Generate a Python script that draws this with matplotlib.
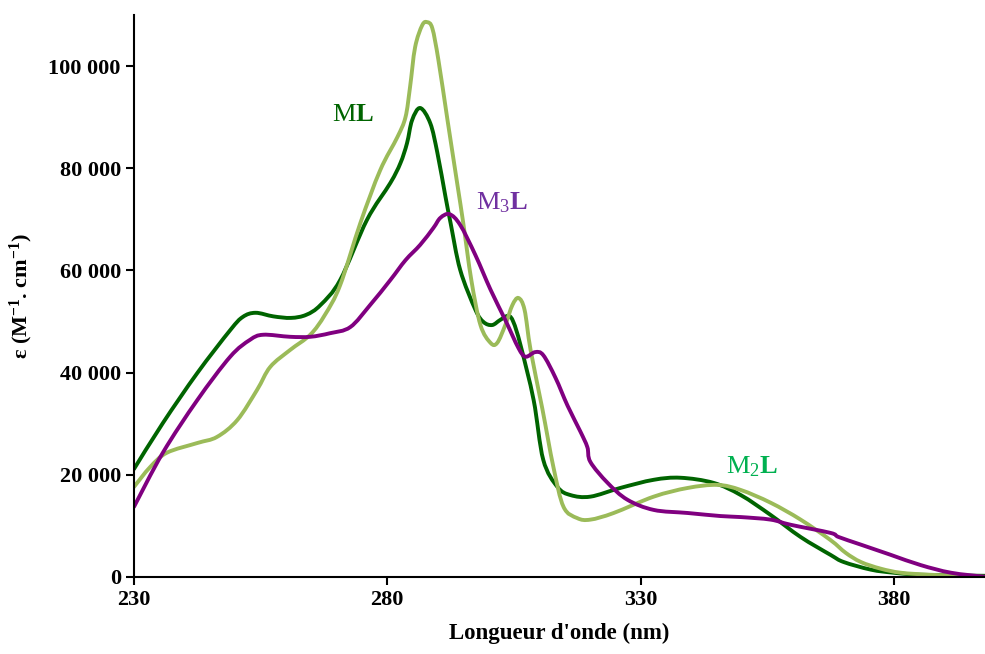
import matplotlib.pyplot as plt
from matplotlib.path import Path
from matplotlib.patches import PathPatch
from matplotlib.ticker import FuncFormatter

plt.rcParams["font.family"] = ["Liberation Serif", "DejaVu Serif"]
plt.rcParams["mathtext.fontset"] = "custom"
plt.rcParams["mathtext.rm"] = "Liberation Serif"
plt.rcParams["mathtext.it"] = "Liberation Serif:italic"
plt.rcParams["mathtext.bf"] = "Liberation Serif:bold"

# ML (dark green)
ml_x = [230, 235.7, 242.5, 249, 251.5, 254, 257.5, 261, 264, 266.8, 270.7, 276,
        280.6, 282.6, 283.9, 284.9, 286.5, 288.5, 289.9, 291.5, 292.5, 294.4, 297.4,
        299, 300.7, 302.3, 303.9, 304.9, 306.3, 308.9, 310.8, 313.6, 316.2, 320.1,
        326, 332.6, 337.9, 344.4, 349.8, 355.7, 361.6, 367.5, 370.1, 375.5, 380,
        385.3, 398]
ml_y = [21100, 30100, 39900, 48300, 50900, 51700, 51000, 50700, 51300, 53200, 58100,
        69900, 77100, 81000, 84900, 89400, 91800, 88800, 83000, 74400, 69300, 60100,
        52300, 49900, 49300, 50300, 51100, 49900, 45400, 34600, 22900, 17600, 16000,
        15700, 17400, 19000, 19400, 18400, 16000, 12100, 7800, 4300, 2900, 1400, 800,
        400, 200]

# M2L (light green)
m2l_x = [230, 233.2, 236.5, 242.5, 246.4, 250.4, 254.3, 256.9, 260.8, 264.8, 267.7,
         270.7, 274.7, 278.6, 282, 283.6, 284.5, 285.5, 286.9, 287.9, 288.9, 290.1,
         291.9, 293.8, 295, 296.6, 298.4, 300.4, 301.7, 303.3, 304.7, 305.9, 307.1,
         308.3, 310.6, 312.8, 314.8, 317.5, 320.1, 324.7, 332.6, 339.3, 345.2, 349.8,
         355.7, 361.6, 367.5, 370.5, 373.5, 377.4, 381.4, 387.3, 398]
m2l_y = [17600, 21500, 24300, 26200, 27400, 30700, 36600, 41100, 44400, 47400, 51300,
         57100, 69300, 79600, 86100, 90000, 95900, 103700, 108000, 108600, 107400,
         101200, 89400, 77100, 69300, 58100, 49300, 45800, 45800, 49300, 53200, 54600,
         52300, 44400, 33000, 21500, 13700, 11500, 11200, 12500, 15700, 17400, 18000,
         17000, 14500, 11200, 7200, 4700, 2900, 1600, 800, 400, 0]

# M3L (purple)
m3l_x = [230, 235.7, 242.5, 249, 252.9, 255.5, 260.8, 264.8, 268.7, 272.7, 276.6,
         280.6, 283.6, 286.5, 289.1, 290.5, 292.3, 294.4, 297.4, 300.4, 303.3, 305.9,
         307.3, 309.2, 310.8, 313.2, 315.6, 318.1, 319.5, 320.1, 323.5, 327.4, 332.6,
         339.3, 345.8, 349.8, 355.7, 359.6, 367.5, 369.1, 373.5, 379.4, 385.3, 391.3,
         398]
m3l_y = [13700, 24300, 34600, 43100, 46400, 47400, 47000, 47000, 47700, 48900, 53200,
         58100, 62000, 65000, 68300, 70300, 71000, 68900, 63000, 56200, 50300, 44800,
         43100, 44000, 43400, 39000, 33500, 28500, 25400, 22500, 18400, 15100, 13100,
         12500, 11900, 11700, 11200, 10200, 8600, 7800, 6300, 4300, 2300, 800, 0]

x_ticks = [230, 280, 330, 380]
y_ticks = [0, 20000, 40000, 60000, 80000, 100000]


def smooth_path(xs, ys):
    # Excel-style smoothed line: Bezier segments through the read points
    pts = list(zip(xs, ys))
    n = len(pts)
    verts = [pts[0]]
    codes = [Path.MOVETO]
    for i in range(n - 1):
        p0 = pts[i - 1] if i > 0 else pts[i]
        p1 = pts[i]
        p2 = pts[i + 1]
        p3 = pts[i + 2] if i + 2 < n else pts[i + 1]
        c1 = (p1[0] + (p2[0] - p0[0]) / 6, p1[1] + (p2[1] - p0[1]) / 6)
        c2 = (p2[0] - (p3[0] - p1[0]) / 6, p2[1] - (p3[1] - p1[1]) / 6)
        verts += [c1, c2, p2]
        codes += [Path.CURVE4] * 3
    return Path(verts, codes)


fig = plt.figure(figsize=(9.85, 6.54), dpi=100)
ax = fig.add_axes([0.136, 0.118, 0.864, 0.859])

for xs, ys, col in [(ml_x, ml_y, "#006400"), (m2l_x, m2l_y, "#9BBB59"),
                    (m3l_x, m3l_y, "#800080")]:
    ax.add_patch(PathPatch(smooth_path(xs, ys), facecolor="none", edgecolor=col,
                           lw=2.8, capstyle="round", joinstyle="round"))

ax.set_xlim(230, 398)
ax.set_ylim(0, 110000)
ax.set_xticks(x_ticks)
ax.set_yticks(y_ticks)
ax.yaxis.set_major_formatter(FuncFormatter(lambda v, p: f"{int(v):,}".replace(",", " ")))

for s in ["top", "right"]:
    ax.spines[s].set_visible(False)
for s in ["left", "bottom"]:
    ax.spines[s].set_linewidth(1.5)
ax.tick_params(direction="out", length=6, width=1.5, labelsize=16)
for lab in ax.get_xticklabels() + ax.get_yticklabels():
    lab.set_fontweight("bold")

ax.set_xlabel("Longueur d'onde (nm)", fontsize=16.5, fontweight="bold", labelpad=9)
ax.set_ylabel(r"ε (M$^{\mathbf{-1}}$. cm$^{\mathbf{-1}}$)", fontsize=16,
              fontweight="bold", labelpad=10)

ax.text(273.3, 90400, r"$\mathrm{M}\mathbf{L}$", color="#006400", fontsize=19,
        ha="center", va="center")
ax.text(302.7, 73200, r"$\mathrm{M}_{3}\mathbf{L}$", color="#7030A0", fontsize=19,
        ha="center", va="center")
ax.text(352.1, 21500, r"$\mathrm{M}_{2}\mathbf{L}$", color="#00B050", fontsize=19,
        ha="center", va="center")

plt.savefig("out.png", dpi=100)
